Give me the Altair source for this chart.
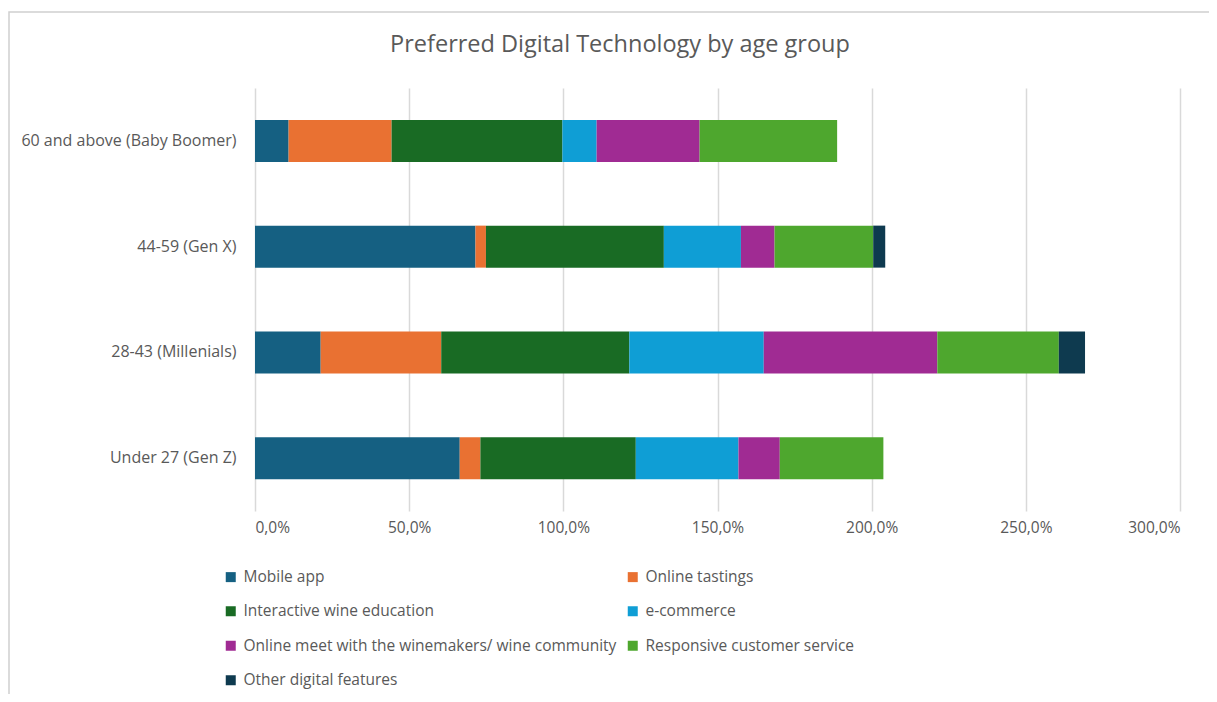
import altair as alt
import pandas as pd

groups = ["60 and above (Baby Boomer)", "44-59 (Gen X)", "28-43 (Millenials)", "Under 27 (Gen Z)"]
series = ["Mobile app", "Online tastings", "Interactive wine education", "e-commerce",
          "Online meet with the winemakers/ wine community", "Responsive customer service",
          "Other digital features"]
colors = ["#156082", "#E97132", "#196B24", "#0F9ED5", "#A02B93", "#4EA72E", "#0E3A4F"]
# legend is filled column by column, so list entries to read row by row
legend_order = [0, 2, 4, 6, 1, 3, 5]

mobile_app = [0.109, 0.715, 0.213, 0.664]
online_tastings = [0.334, 0.034, 0.391, 0.067]
interactive_edu = [0.554, 0.577, 0.610, 0.504]
ecommerce = [0.111, 0.250, 0.436, 0.333]
online_meet = [0.334, 0.109, 0.563, 0.134]
responsive = [0.446, 0.320, 0.394, 0.336]
other = [0.0, 0.039, 0.085, 0.0]

title_text = "Preferred Digital Technology by age group"

values = [mobile_app, online_tastings, interactive_edu, ecommerce, online_meet, responsive, other]
rows = []
for si, (s, vals) in enumerate(zip(series, values)):
    for g, v in zip(groups, vals):
        rows.append({"group": g, "series": s, "value": v, "order": si})
df = pd.DataFrame(rows)

leg_domain = [series[i] for i in legend_order]
leg_range = [colors[i] for i in legend_order]

font = "Open Sans"
grey = "#595959"

bars = alt.Chart(df).mark_bar(size=42).encode(
    y=alt.Y("group:N", sort=groups, title=None,
            axis=alt.Axis(ticks=False, domain=False, labelFontSize=16, labelColor=grey,
                          labelFont=font, labelPadding=19, labelLimit=300)),
    x=alt.X("value:Q", stack="zero", title=None,
            scale=alt.Scale(domain=[0, 3.0], nice=False),
            axis=alt.Axis(values=[0, 0.5, 1, 1.5, 2, 2.5, 3],
                          labelExpr="replace(format(datum.value, '.1%'), '.', ',')",
                          ticks=False, domain=False, labelFontSize=15.5, labelColor=grey,
                          labelFont=font, labelPadding=9, gridColor="#D9D9D9", gridWidth=1.5)),
    color=alt.Color("series:N",
                    scale=alt.Scale(domain=leg_domain, range=leg_range),
                    legend=alt.Legend(title=None, orient="none", legendX=-32, legendY=481,
                                      columns=2, symbolType="square", symbolSize=100,
                                      symbolStrokeWidth=0, labelFontSize=15.5, labelColor=grey,
                                      labelFont=font, rowPadding=17.5, columnPadding=8,
                                      labelLimit=500, labelOffset=5)),
    order=alt.Order("order:Q"),
)

border = alt.Chart(pd.DataFrame({"a": [0]})).mark_rect(
    fill=None, stroke="#D0D0D0", strokeWidth=1.5
).encode(x=alt.value(-246), x2=alt.value(1000), y=alt.value(-76), y2=alt.value(700))

title = alt.Chart(pd.DataFrame({"t": [title_text]})).mark_text(
    fontSize=23.5, font=font, color=grey, align="center", baseline="middle"
).encode(text="t:N", x=alt.value(365), y=alt.value(-43))

chart = alt.layer(border, bars, title).properties(
    width=925, height=423,
    padding={"left": 247, "top": 80, "right": 29, "bottom": 183},
    autosize=alt.AutoSizeParams(type="none"),
).configure_view(stroke=None)

chart.save("out.html", embed_options={"renderer": "svg", "actions": False})
